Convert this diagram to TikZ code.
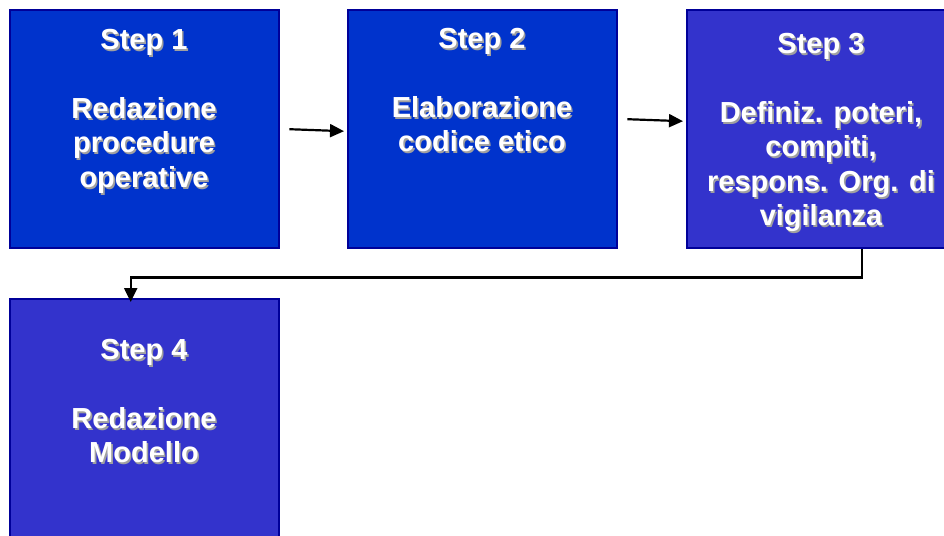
\documentclass[tikz,border=0pt]{standalone}
\usepackage{fontspec}
\setmainfont{Liberation Sans}
\usetikzlibrary{arrows.meta,calc}
\definecolor{boxA}{HTML}{0033CC}
\definecolor{boxB}{HTML}{3333CC}
\definecolor{boxline}{HTML}{000099}
\definecolor{shadowgray}{HTML}{A0A0A0}
\tikzset{
  stepbox/.style={draw=boxline, line width=2.4pt, minimum width=269pt, minimum height=238pt, inner sep=0pt, anchor=north west},
  steptext/.style={text=white, font=\bfseries\fontsize{29}{34.5}\selectfont, align=center, anchor=north, inner sep=0pt},
  stepshadow/.style={steptext, text=shadowgray},
  arr/.style={line width=2.2pt, -{Triangle[length=14pt,width=13pt]}}
}
\newcommand{\shadowtext}[3]{%
  \node[stepshadow] (#1s) at ($(#2)+(1.6,1.6)$) {#3};
  \node[steptext] (#1) at (#2) {#3};
}
\begin{document}
\begin{tikzpicture}[x=1pt,y=-1pt]
\useasboundingbox (0,0) rectangle (944,535);
\clip (0,0) rectangle (944,535);
\fill[white] (0,0) rectangle (944,535);
\node[stepbox, fill=boxA] (b1) at (9,9) {};
\node[stepbox, fill=boxA] (b2) at (347,9) {};
\node[stepbox, fill=boxB] (b3) at (686,9) {};
\node[stepbox, fill=boxB] (b4) at (9,298) {};
\coordinate (t1) at (144,29);
\coordinate (t2) at (482,28);
\coordinate (t3) at (821,33);
\coordinate (t4) at (144,339);
\shadowtext{x1}{t1}{Step 1\\[34.5pt]Redazione\\procedure\\operative}
\shadowtext{x2}{t2}{Step 2\\[34.5pt]Elaborazione\\codice etico}
\shadowtext{x3}{t3}{Step 3\\[34.5pt]Definiz. poteri,\\compiti,\\respons. Org. di\\vigilanza}
\shadowtext{x4}{t4}{Step 4\\[34.5pt]Redazione\\Modello}
\draw[arr] ($(b1.east)+(9,0)$) -- ($(b2.west)+(-3,2)$);
\draw[arr] ($(b2.east)+(9,-10)$) -- ($(b3.west)+(-3,-8)$);
\draw[arr] ($(b3.south)+(40,0)$) -- ++(0,28) -| ($(b4.north)+(-14,4)$);
\end{tikzpicture}
\end{document}
